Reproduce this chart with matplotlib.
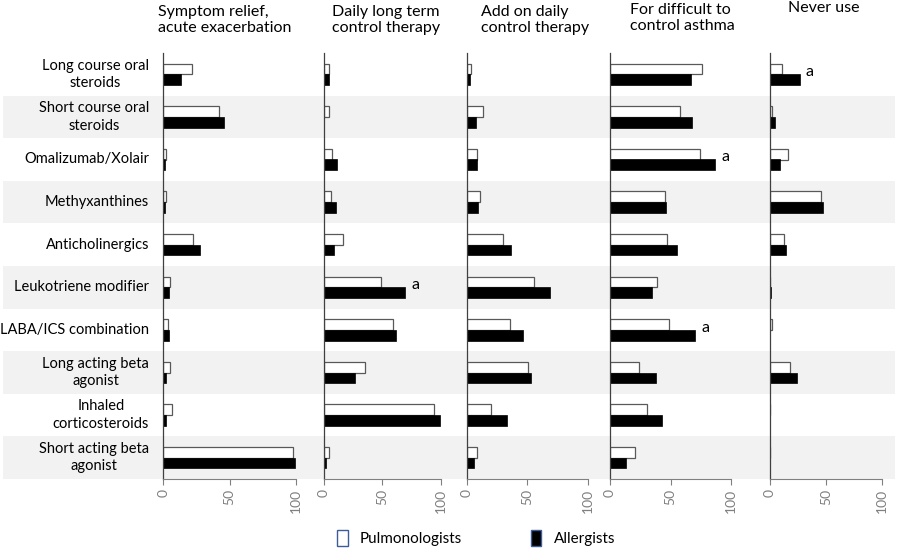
import matplotlib
matplotlib.use("Agg")
import matplotlib.pyplot as plt
from matplotlib.patches import Patch

plt.rcParams['font.family'] = ['Lato', 'DejaVu Sans']

# drug classes, top to bottom
drugs = ["Long course oral\nsteroids", "Short course oral\nsteroids", "Omalizumab/Xolair",
         "Methyxanthines", "Anticholinergics", "Leukotriene modifier",
         "LABA/ICS combination", "Long acting beta\nagonist", "Inhaled\ncorticosteroids",
         "Short acting beta\nagonist"]

panel_titles = ["Symptom relief,\nacute exacerbation", "Daily long term\ncontrol therapy",
                "Add on daily\ncontrol therapy", "For difficult to\ncontrol asthma", "Never use"]

# percent of respondents, same order as drugs
pulm = [
    [21.5, 42, 2, 2, 22, 5, 3.3, 5.3, 6.5, 97.5],
    [4.8, 4.8, 7.4, 6.5, 16.2, 49, 59, 35.2, 94.3, 4.8],
    [3.6, 13.9, 8.6, 11, 30, 55.4, 36, 51, 20.5, 8.6],
    [75.8, 57.6, 74, 45.7, 46.8, 38.8, 49, 24.2, 30.8, 20.4],
    [11.3, 2.4, 16.6, 45.4, 13, 0, 1.8, 18.4, 0, 0],
]
allerg = [
    [13.6, 46, 1, 1, 27.6, 4.5, 4.5, 2, 2, 99.5],
    [4.3, 0.6, 11.6, 10.5, 8.8, 69.6, 61.4, 26.7, 98.9, 2],
    [3, 8, 8.9, 9.7, 36.3, 69, 46.3, 53.5, 33.5, 6.4],
    [67, 67.5, 87, 46.3, 55.6, 35, 70.5, 38, 43.2, 13],
    [27.3, 4.5, 9.5, 47.8, 14.8, 1.2, 0, 24.3, 0, 0],
]
# significance marks: (panel, drug index)
marks = [(1, 5), (3, 2), (3, 6), (4, 0)]

ticks = [0, 50, 100]

W, H = 900, 548
fig = plt.figure(figsize=(9, 5.48), dpi=100)

top_px, bot_px = 53, 479
ax_bottom = 1 - bot_px / H
ax_height = (bot_px - top_px) / H
n = len(drugs)

# shaded bands behind everything
bg = fig.add_axes([3 / W, ax_bottom, 892 / W, ax_height], zorder=0)
bg.set_xlim(0, 1)
bg.set_ylim(0, n)
for i in range(n):
    if i % 2 == 1:
        bg.axhspan(n - 1 - i, n - i, color='#f2f2f2', lw=0)
bg.axis('off')

# panel left edge / right edge (value 100) in pixels
panel_px = [(163.4, 296), (323.7, 441), (466.7, 587.5), (610, 731), (769.6, 882)]
title_x = [158, 332, 481, 630, 788]
title_y = [5, 5, 5, 3, 1.5]

yc = [n - 1 - i + 0.5 for i in range(n)]
bh = 0.25

for k, (x0, x1) in enumerate(panel_px):
    ax = fig.add_axes([x0 / W, ax_bottom, (x1 - x0) / W, ax_height], zorder=1)
    ax.patch.set_alpha(0)
    ax.barh([y + bh / 2 for y in yc], pulm[k], height=bh, color='white',
            edgecolor='#595959', linewidth=0.9)
    ax.barh([y - bh / 2 for y in yc], allerg[k], height=bh, color='black',
            edgecolor='black', linewidth=0.5)
    ax.set_xlim(0, 100)
    ax.set_ylim(0, n)
    ax.set_xticks(ticks)
    ax.set_xticklabels([str(t) for t in ticks], rotation=90, color='#808080', fontsize=10)
    ax.tick_params(axis='x', direction='out', length=4, color='#808080', pad=3)
    ax.set_yticks([])
    for s in ['top', 'right']:
        ax.spines[s].set_visible(False)
    ax.spines['bottom'].set_color('#808080')
    ax.spines['left'].set_color('#404040')
    ax.spines['left'].set_linewidth(0.9)
    for (p, d) in marks:
        if p == k:
            ax.text(allerg[k][d] + 5, yc[d] + 0.05, 'a', fontsize=11.5, va='center', ha='left')
    fig.text(title_x[k] / W, 1 - title_y[k] / H, panel_titles[k], fontsize=11.5,
             ha='left', va='top', linespacing=1.2)

for i, lab in enumerate(drugs):
    y = ax_bottom + ax_height * (yc[i] / n)
    fig.text(149 / W, y, lab, fontsize=10.5, ha='right', va='center',
             multialignment='center', linespacing=1.3)

handles = [Patch(facecolor='white', edgecolor='#3d5c99', label='Pulmonologists'),
           Patch(facecolor='black', edgecolor='#3d5c99', label='Allergists')]
fig.legend(handles=handles, loc='center', bbox_to_anchor=(476 / W, 1 - 538 / H),
           ncol=2, frameon=False, fontsize=11, handlelength=0.7, handleheight=1.3,
           columnspacing=4.5, handletextpad=0.8)

fig.savefig('out.png', dpi=100)
